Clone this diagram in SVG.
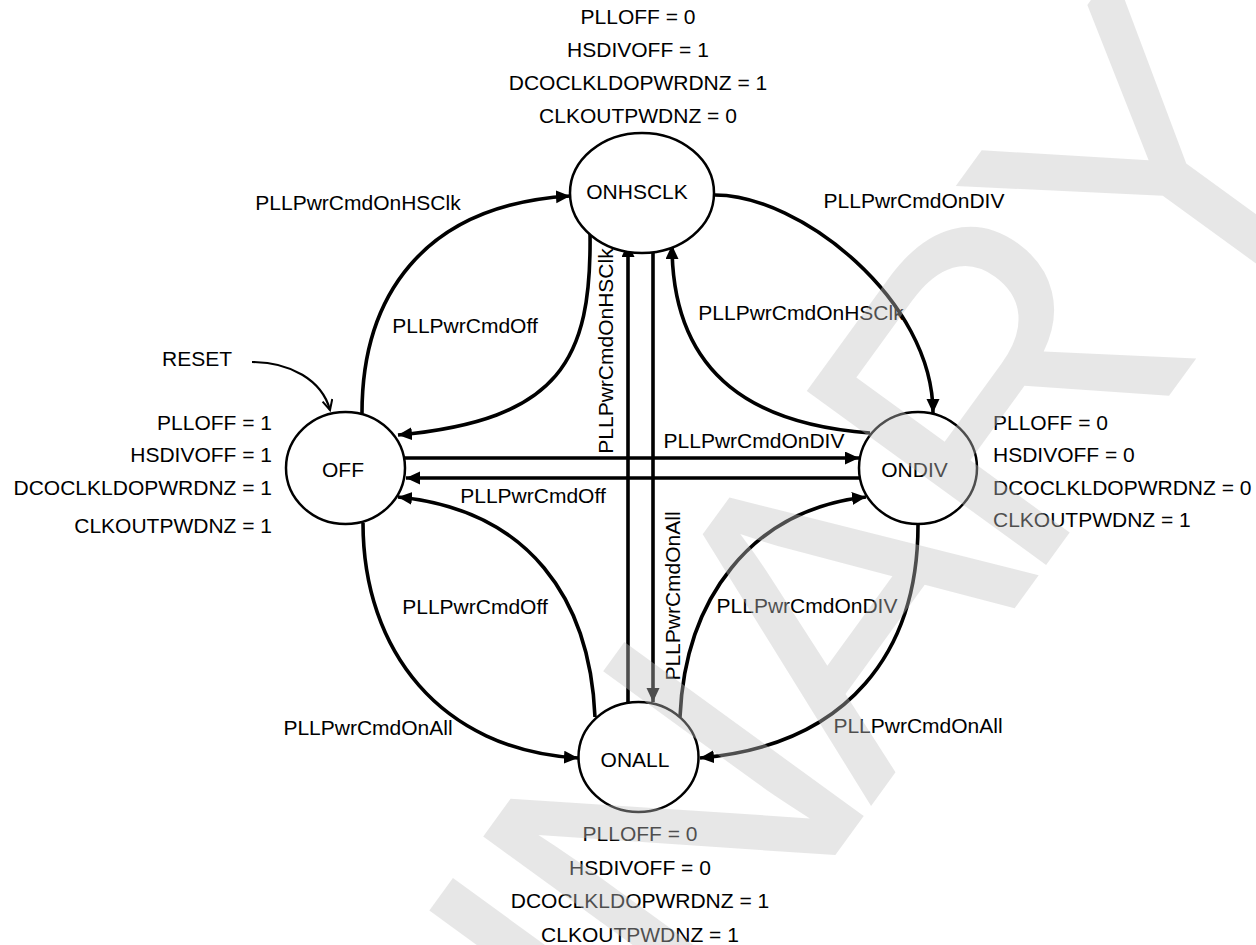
<svg xmlns="http://www.w3.org/2000/svg" width="1256" height="945" viewBox="0 0 1256 945">
<style>
text{font-family:"Liberation Sans",Arial,sans-serif;font-size:21px;fill:#000}
.node ellipse{fill:#fff;stroke:#000;stroke-width:2.5}
.c{fill:none;stroke:#000;stroke-width:3.6}
.mid{text-anchor:middle}
.end{text-anchor:end}
.wm{font-size:430px;fill:#c2c2c2;fill-opacity:0.4}
</style>
<defs>
<marker id="ah" markerUnits="userSpaceOnUse" markerWidth="16" markerHeight="14" refX="14" refY="6.5" orient="auto">
<path d="M0,0 L14,6.5 L0,13 z" fill="#000"/>
</marker>
<marker id="ao" markerUnits="userSpaceOnUse" markerWidth="14" markerHeight="14" refX="11" refY="6" orient="auto">
<path d="M1,1 L11,6 L1,11" fill="none" stroke="#000" stroke-width="2"/>
</marker>
</defs>
<rect width="1256" height="945" fill="#fff"/>

<g id="connectors">
<path class="c" d="M362,413 C362,300 420,205 570,196" marker-end="url(#ah)"/>
<path class="c" d="M590,232 C592,360 560,420 398,435" marker-end="url(#ah)"/>
<path class="c" d="M715,195 C800,195 933,300 933,413" marker-end="url(#ah)"/>
<path class="c" d="M870,433 C760,425 672,380 672,245" marker-end="url(#ah)"/>
<path class="c" d="M405,458 L859,458" marker-end="url(#ah)"/>
<path class="c" d="M860,478 L406,478" marker-end="url(#ah)"/>
<path class="c" d="M628,702 L628,243" marker-end="url(#ah)"/>
<path class="c" d="M653,252 L653,702" marker-end="url(#ah)"/>
<path class="c" d="M363,523 C363,650 440,750 578,758" marker-end="url(#ah)"/>
<path class="c" d="M595,717 C590,600 530,510 398,497" marker-end="url(#ah)"/>
<path class="c" d="M680,717 C685,600 750,510 866,497" marker-end="url(#ah)"/>
<path class="c" d="M918,525 C918,650 850,745 700,758" marker-end="url(#ah)"/>
<path d="M252,362 C290,362 322,380 330,410" fill="none" stroke="#000" stroke-width="2.2" marker-end="url(#ao)"/>
<text x="358" y="210" class="mid">PLLPwrCmdOnHSClk</text>
<text x="465" y="333" class="mid">PLLPwrCmdOff</text>
<text x="914" y="208" class="mid">PLLPwrCmdOnDIV</text>
<text x="801" y="320" class="mid">PLLPwrCmdOnHSClk</text>
<text x="754" y="448" class="mid">PLLPwrCmdOnDIV</text>
<text x="533" y="503" class="mid">PLLPwrCmdOff</text>
<text x="475" y="614" class="mid">PLLPwrCmdOff</text>
<text x="368" y="735" class="mid">PLLPwrCmdOnAll</text>
<text x="807" y="613" class="mid">PLLPwrCmdOnDIV</text>
<text x="918" y="733" class="mid">PLLPwrCmdOnAll</text>
<text class="mid" transform="translate(613,351) rotate(-90)">PLLPwrCmdOnHSClk</text>
<text class="mid" transform="translate(680,596) rotate(-90)">PLLPwrCmdOnAll</text>
<text x="197" y="366" class="mid">RESET</text>
</g>

<g id="ONHSCLK" class="node">
<ellipse cx="642" cy="193" rx="72" ry="60"/>
<text x="637" y="199" class="mid">ONHSCLK</text>
<text x="638" y="24" class="mid">PLLOFF = 0</text>
<text x="638" y="57" class="mid">HSDIVOFF = 1</text>
<text x="638" y="90" class="mid">DCOCLKLDOPWRDNZ = 1</text>
<text x="638" y="123" class="mid">CLKOUTPWDNZ = 0</text>
</g>

<g id="OFF" class="node">
<ellipse cx="345.5" cy="468" rx="59.5" ry="56"/>
<text x="343" y="477" class="mid">OFF</text>
<text x="272" y="430" class="end">PLLOFF = 1</text>
<text x="272" y="462" class="end">HSDIVOFF = 1</text>
<text x="272" y="495" class="end">DCOCLKLDOPWRDNZ = 1</text>
<text x="272" y="533" class="end">CLKOUTPWDNZ = 1</text>
</g>

<g id="ONDIV" class="node">
<ellipse cx="918" cy="468" rx="59" ry="56"/>
<text x="914.5" y="477" class="mid">ONDIV</text>
<text x="993" y="430">PLLOFF = 0</text>
<text x="993" y="462">HSDIVOFF = 0</text>
<text x="993" y="495">DCOCLKLDOPWRDNZ = 0</text>
<text x="993" y="527">CLKOUTPWDNZ = 1</text>
</g>

<g id="ONALL" class="node">
<ellipse cx="638.5" cy="757" rx="60" ry="55"/>
<text x="635" y="767" class="mid">ONALL</text>
<text x="640" y="841" class="mid">PLLOFF = 0</text>
<text x="640" y="875" class="mid">HSDIVOFF = 0</text>
<text x="640" y="908" class="mid">DCOCLKLDOPWRDNZ = 1</text>
<text x="640" y="942" class="mid">CLKOUTPWDNZ = 1</text>
</g>

<g id="watermark">
<text class="wm" transform="translate(-213,2298) rotate(-54)" textLength="2673" lengthAdjust="spacing">PRELIMINARY</text>
</g>
</svg>
